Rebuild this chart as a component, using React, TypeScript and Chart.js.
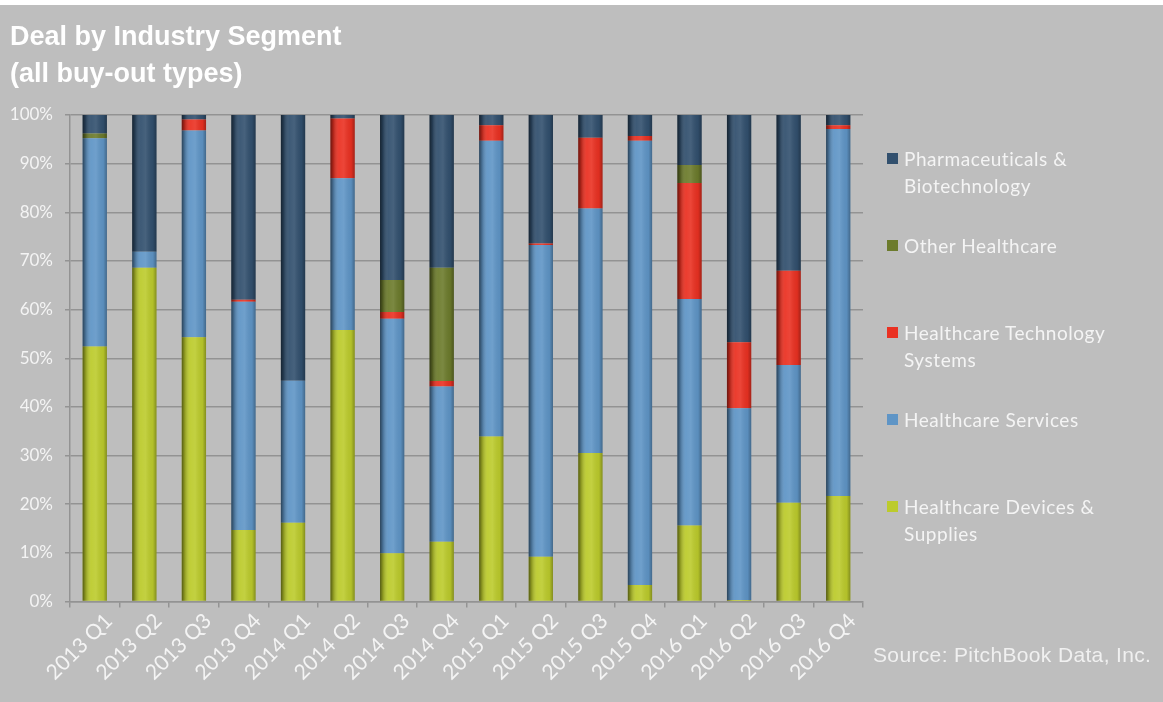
import React, { useEffect, useRef } from "react";
import { Chart, registerables } from "chart.js";

Chart.register(...registerables);

// Quarterly share of deals by healthcare industry segment (percent of deal count)
const quarters = [
  "2013 Q1", "2013 Q2", "2013 Q3", "2013 Q4",
  "2014 Q1", "2014 Q2", "2014 Q3", "2014 Q4",
  "2015 Q1", "2015 Q2", "2015 Q3", "2015 Q4",
  "2016 Q1", "2016 Q2", "2016 Q3", "2016 Q4",
];

const devicesSupplies = [52.4, 68.6, 54.3, 14.7, 16.2, 55.8, 9.9, 12.3, 33.9, 9.2, 30.5, 3.4, 15.6, 0.3, 20.3, 21.7];
const healthcareServices = [42.8, 3.3, 42.5, 46.9, 29.2, 31.2, 48.2, 31.9, 60.8, 64.1, 50.3, 91.3, 46.6, 39.4, 28.3, 75.4];
const technologySystems = [0, 0, 2.3, 0.4, 0, 12.3, 1.4, 1.1, 3.2, 0.3, 14.5, 1.0, 23.8, 13.6, 19.4, 0.8];
const otherHealthcare = [1.0, 0, 0, 0, 0, 0, 6.6, 23.3, 0, 0, 0, 0, 3.7, 0, 0, 0];
const pharmaBiotech = [3.8, 28.1, 0.9, 38.0, 54.6, 0.7, 33.9, 31.4, 2.1, 26.4, 4.7, 4.3, 10.3, 46.7, 32.0, 2.1];

const yTicks = [0, 10, 20, 30, 40, 50, 60, 70, 80, 90, 100];

// Stacked bottom-to-top
const segments = [
  { label: "Healthcare Devices & Supplies", values: devicesSupplies, color: "#bccb2c" },
  { label: "Healthcare Services", values: healthcareServices, color: "#5f95c6" },
  { label: "Healthcare Technology Systems", values: technologySystems, color: "#ea3122" },
  { label: "Other Healthcare", values: otherHealthcare, color: "#6c7b2c" },
  { label: "Pharmaceuticals & Biotechnology", values: pharmaBiotech, color: "#32506e" },
];

const PAGE_BG = "#bebebe";
const GRID = "#939393";
const TEXT = "#f4f4f4";

// Gives each bar a rounded, cylinder-like horizontal shading
const cylinderShade = {
  id: "cylinderShade",
  afterDatasetsDraw(chart: any) {
    const ctx = chart.ctx;
    ctx.save();
    chart.data.datasets.forEach((_ds: any, i: number) => {
      const meta = chart.getDatasetMeta(i);
      if (meta.hidden) return;
      meta.data.forEach((bar: any) => {
        const { x, y, base, width } = bar.getProps(["x", "y", "base", "width"], true);
        const h = Math.abs(base - y);
        if (!h) return;
        const left = x - width / 2;
        const top = Math.min(y, base);
        const g = ctx.createLinearGradient(left, 0, left + width, 0);
        g.addColorStop(0, "rgba(0,0,0,0.55)");
        g.addColorStop(0.12, "rgba(0,0,0,0.25)");
        g.addColorStop(0.35, "rgba(255,255,255,0.06)");
        g.addColorStop(0.55, "rgba(255,255,255,0.1)");
        g.addColorStop(0.85, "rgba(0,0,0,0.05)");
        g.addColorStop(1, "rgba(0,0,0,0.3)");
        ctx.fillStyle = g;
        ctx.fillRect(left, top, width, h);
      });
    });
    ctx.restore();
  },
};

export default function App() {
  const canvasRef = useRef<HTMLCanvasElement | null>(null);

  useEffect(() => {
    if (!canvasRef.current) return;
    const chart = new Chart(canvasRef.current, {
      type: "bar",
      data: {
        labels: quarters,
        datasets: segments.map((s) => ({
          label: s.label,
          data: s.values,
          backgroundColor: s.color,
          borderWidth: 0,
          categoryPercentage: 1,
          barPercentage: 0.49,
        })),
      },
      options: {
        responsive: false,
        animation: false,
        devicePixelRatio: 1,
        layout: { padding: { top: 0, right: 300, bottom: 0, left: 10 } },
        plugins: {
          legend: { display: false },
          tooltip: { enabled: false },
          title: {
            display: true,
            align: "start",
            text: ["Deal by Industry Segment", "(all buy-out types)"],
            color: "#ffffff",
            font: { family: "'Liberation Sans', Arial, sans-serif", size: 27, weight: "bold", lineHeight: 37 / 27 },
            padding: { top: 14, bottom: 22 },
          },
        },
        scales: {
          x: {
            stacked: true,
            afterFit: (scale: any) => {
              scale.height = 100.5;
              scale.paddingLeft = 0;
              scale.paddingRight = 0;
            },
            grid: {
              drawOnChartArea: false,
              drawTicks: true,
              tickLength: 6,
              color: GRID,
              lineWidth: 1.5,
            },
            border: { display: true, color: GRID, width: 1.5 },
            ticks: {
              color: TEXT,
              font: { family: "Lato, 'Open Sans', sans-serif", size: 21 },
              minRotation: 45,
              maxRotation: 45,
              autoSkip: false,
              labelOffset: 14,
              padding: 1,
            },
          },
          y: {
            stacked: true,
            min: 0,
            max: 100,
            afterFit: (scale: any) => {
              scale.width = 60;
              scale.paddingTop = 0;
              scale.paddingBottom = 0;
            },
            afterBuildTicks: (scale: any) => {
              scale.ticks = yTicks.map((v) => ({ value: v }));
            },
            grid: {
              color: GRID,
              lineWidth: 1.5,
              drawTicks: true,
              tickLength: 5,
            },
            border: { display: true, color: GRID, width: 1.5 },
            ticks: {
              color: TEXT,
              font: { family: "Lato, 'Open Sans', sans-serif", size: 17 },
              padding: 12,
              callback: (v: any) => `${v}%`,
            },
          },
        },
      },
      plugins: [cylinderShade],
    } as any);
    return () => chart.destroy();
  }, []);

  const legendItems = [...segments].reverse();

  return (
    <div
      style={{
        position: "absolute",
        left: 0,
        top: 0,
        width: 1163,
        height: 702,
        background: "#ffffff",
        overflow: "hidden",
      }}
    >
      <div style={{ position: "absolute", left: 0, top: 5, width: 1163, height: 697, background: PAGE_BG }}>
        <canvas ref={canvasRef} width={1163} height={697} style={{ display: "block" }} />
      </div>
      <div style={{ position: "absolute", left: 887, top: 144.5, width: 250 }}>
        {legendItems.map((s) => (
          <div key={s.label} style={{ display: "flex", alignItems: "flex-start", height: 87 }}>
            <div
              style={{
                width: 11,
                height: 11,
                marginTop: 8,
                marginRight: 6,
                background: s.color,
                flex: "0 0 auto",
              }}
            />
            <div
              style={{
                width: 215,
                color: TEXT,
                fontFamily: "Lato, 'Open Sans', sans-serif",
                fontSize: 19,
                letterSpacing: "0.55px",
                lineHeight: "27px",
              }}
            >
              {s.label}
            </div>
          </div>
        ))}
      </div>
      <div
        style={{
          position: "absolute",
          left: 873,
          top: 641,
          color: "#f0f0f0",
          fontFamily: "'Liberation Sans Narrow', 'Liberation Sans', Arial, sans-serif",
          fontSize: 21,
          letterSpacing: "0.35px",
          lineHeight: "28px",
          whiteSpace: "nowrap",
        }}
      >
        Source: PitchBook Data, Inc.
      </div>
    </div>
  );
}
